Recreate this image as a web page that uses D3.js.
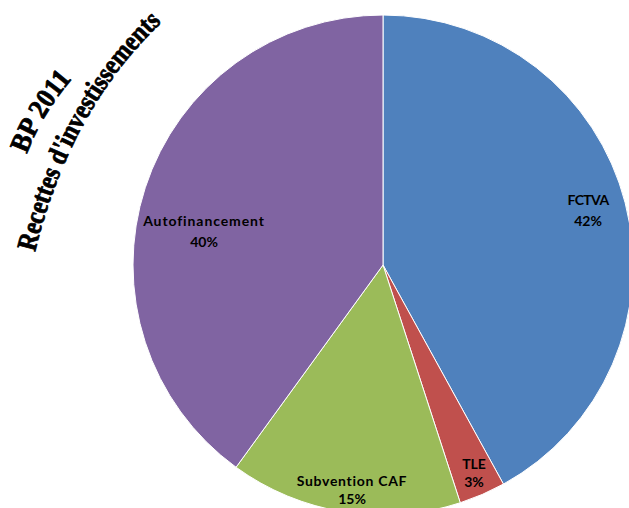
<!DOCTYPE html>
<html>
<head>
<meta charset="utf-8">
<script src="https://cdn.jsdelivr.net/npm/d3@7"></script>
<style>
  html, body { margin: 0; padding: 0; background: #fff; }
  svg { display: block; }
</style>
</head>
<body>
<svg id="chart" width="629" height="508"></svg>
<script>
// ---- data ----
const categories = ["FCTVA", "TLE", "Subvention CAF", "Autofinancement"];
const values = [42, 3, 15, 40];
const percentLabels = ["42%", "3%", "15%", "40%"];
const titleLines = ["BP 2011", "Recettes d'investissements"];

// ---- layout / style (not data) ----
const colors = ["#4F81BD", "#C0504D", "#9BBB59", "#8064A2"];
const cx = 383, cy = 265, radius = 250;
// label anchors relative to pie centre: [x, baseline line 1, baseline line 2]
const labelOffsets = [[205, -60, -39], [91, 204, 222], [-31, 221, 239], [-179, -39, -18]];
const labelSpacing = [-0.6, 0, 0.7, 0.9];

const svg = d3.select("#chart");

const pie = d3.pie().sort(null).value(d => d.value);
const arc = d3.arc().innerRadius(0).outerRadius(radius);
const data = categories.map((c, i) => ({ name: c, value: values[i], pct: percentLabels[i], color: colors[i] }));

const g = svg.append("g").attr("transform", `translate(${cx},${cy})`);
g.selectAll("path.slice")
  .data(pie(data))
  .join("path")
  .attr("class", "slice")
  .attr("d", arc)
  .attr("fill", d => d.data.color)
  .attr("stroke", "#ffffff")
  .attr("stroke-width", 1);

const labels = g.selectAll("text.lbl")
  .data(pie(data))
  .join("text")
  .attr("class", "lbl")
  .attr("text-anchor", "middle")
  .attr("font-family", "Lato, 'Liberation Sans', sans-serif")
  .attr("font-weight", "bold")
  .attr("font-size", 14)
  .attr("fill", "#000");
labels.append("tspan")
  .attr("x", (d, i) => labelOffsets[i][0])
  .attr("y", (d, i) => labelOffsets[i][1])
  .attr("letter-spacing", (d, i) => labelSpacing[i])
  .text(d => d.data.name);
labels.append("tspan")
  .attr("x", (d, i) => labelOffsets[i][0])
  .attr("y", (d, i) => labelOffsets[i][2])
  .text(d => d.data.pct);

// ---- curved title ----
const defs = svg.append("defs");
defs.append("path").attr("id", "tp1").attr("d", "M27,154 Q44,108 82,68 L120,34");
defs.append("path").attr("id", "tp2").attr("d", "M35,252 Q70,110 160,24 L200,-10");

const titleFont = "'Liberation Serif', 'DejaVu Serif', serif";
[["tp1", titleLines[0], 88], ["tp2", titleLines[1], 266]].forEach(([id, txt, len]) => {
  svg.append("text")
    .attr("font-family", titleFont)
    .attr("font-weight", "bold")
    .attr("font-size", 28)
    .attr("fill", "#000")
    .attr("stroke", "#000")
    .attr("stroke-width", 0.8)
    .append("textPath")
    .attr("href", "#" + id)
    .attr("textLength", len)
    .attr("lengthAdjust", "spacingAndGlyphs")
    .text(txt);
});
</script>
</body>
</html>
